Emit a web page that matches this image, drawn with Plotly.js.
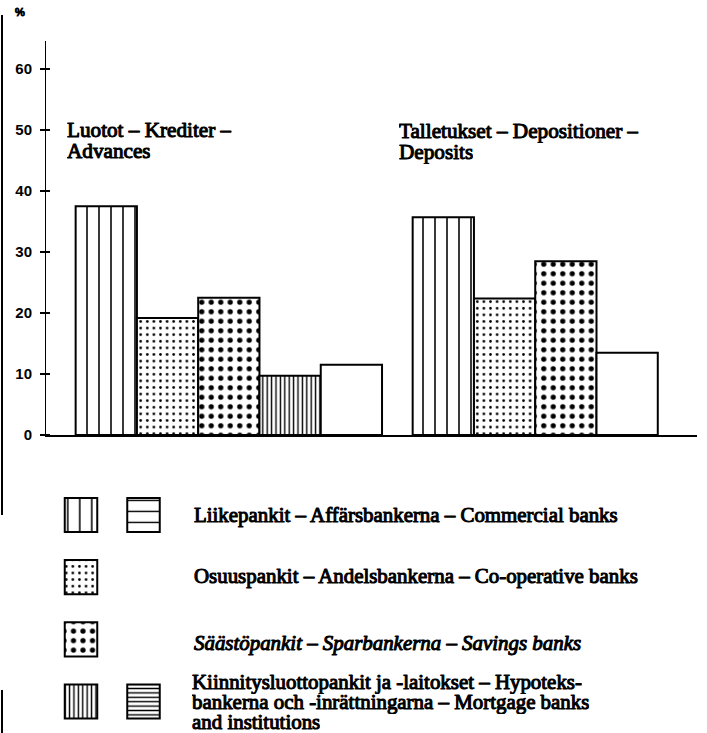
<!DOCTYPE html>
<html><head><meta charset="utf-8">
<script src="https://cdn.plot.ly/plotly-3.0.1.min.js"></script>
<style>
html,body{margin:0;padding:0;background:#fff}
/* heavier strokes for the serif captions (no bold serif face installed) */
#chart text.annotation-text{stroke:#000 !important;stroke-width:1.05px !important;stroke-linejoin:round}
</style>
</head><body><div id="chart" style="width:707px;height:733px"></div>
<script>
// ---- data ----
const groupLabels = [
  ['Luotot – Krediter –', 'Advances'],
  ['Talletukset – Depositioner –', 'Deposits']
];
const commercial  = [37.5, 35.7];
const cooperative = [19.2, 22.4];
const savings     = [22.5, 28.5];
const mortgage    = [9.7, null];
const other       = [11.5, 13.5];
const yTicks = [0, 10, 20, 30, 40, 50, 60];
const legendLabels = [
  ['Liikepankit – Affärsbankerna – Commercial banks'],
  ['Osuuspankit – Andelsbankerna – Co-operative banks'],
  ['Säästöpankit – Sparbankerna – Savings banks'],
  ['Kiinnitysluottopankit ja -laitokset – Hypoteks-', 'bankerna och -inrättningarna – Mortgage banks', 'and institutions']
];

// ---- styles ----
const W = 707, H = 733;
const px = v => v / W, py = v => 1 - v / H;
const serif = 'Liberation Serif';
const sans = 'Liberation Sans';
const pat = {
  wavyV:  {shape: '|', size: 12, solidity: 0.13},
  wavyH:  {shape: '-', size: 11, solidity: 0.13},
  dotS:   {shape: '.', size: 6.6, solidity: 0.13},
  dotL:   {shape: '.', size: 9.5, solidity: 0.24},
  linesV: {shape: '|', size: 4.4, solidity: 0.32},
  linesH: {shape: '-', size: 4.4, solidity: 0.32},
  none:   {shape: ''}
};
function marker(p) {
  const m = {color: 'white', line: {color: 'black', width: 2}};
  if (p.shape) m.pattern = Object.assign({fgcolor: 'black', bgcolor: 'white', fillmode: 'replace'}, p);
  return m;
}

const series = [
  {values: commercial,  p: pat.wavyV},
  {values: cooperative, p: pat.dotS},
  {values: savings,     p: pat.dotL},
  {values: mortgage,    p: pat.linesV},
  {values: other,       p: pat.none}
];
const groupStart = [1, 6.5];
const slot = [0, 0];
const traces = series.map(s => {
  const xs = [], ys = [];
  s.values.forEach((v, g) => {
    if (v == null) return;
    xs.push(groupStart[g] + slot[g]); slot[g]++; ys.push(v);
  });
  return {type: 'bar', x: xs, y: ys, width: 1, marker: marker(s.p),
          xaxis: 'x', yaxis: 'y', showlegend: false, hoverinfo: 'skip'};
});

// legend keys (column, row, pattern)
const keys = [
  [0, 0, pat.wavyV], [1, 0, pat.wavyH],
  [0, 1, pat.dotS],
  [0, 2, pat.dotL],
  [0, 3, pat.linesV], [1, 3, pat.linesH]
];
keys.forEach(k => traces.push({
  type: 'bar', x: [k[0]], y: [0.55], base: [k[1] - 0.275], width: 0.52,
  marker: marker(k[2]), xaxis: 'x2', yaxis: 'y2', showlegend: false, hoverinfo: 'skip'
}));

// one annotation per text line; stacked lines get a box exactly one line-step tall
function textLines(lines, x, y0, step, font) {
  const multi = lines.length > 1;
  return lines.map((t, i) => Object.assign({
    xref: 'paper', yref: 'paper', x: px(x), y: py(y0 + i * step + (multi ? 1.5 : 0)),
    text: t, showarrow: false, xanchor: 'left', yanchor: 'middle', font: font
  }, multi ? {height: step, valign: 'bottom', borderpad: 0, borderwidth: 0} : {}));
}

const annotations = [];
annotations.push({xref: 'paper', yref: 'paper', x: px(20), y: py(12), text: '%', showarrow: false,
  xanchor: 'center', yanchor: 'middle', font: {family: sans, size: 11, color: 'black'}});
const groupTitlePos = [[67, 130], [399, 131]];
groupLabels.forEach((lines, g) => annotations.push(...textLines(lines,
  groupTitlePos[g][0], groupTitlePos[g][1], 21, {family: serif, size: 21.2, color: 'black'})));
const legendRowY = [515, 576, 643, 682];
legendLabels.forEach((lines, r) => annotations.push(...textLines(lines, 192, legendRowY[r], 20,
  {family: serif, size: 20.9, style: r === 2 ? 'italic' : 'normal', color: 'black'})));

const layout = {
  width: W, height: H, margin: {l: 0, r: 0, t: 0, b: 0},
  paper_bgcolor: 'white', plot_bgcolor: 'white', barmode: 'overlay', showlegend: false,
  xaxis: {domain: [px(45), px(697)], range: [0, 10.64], showline: true, linewidth: 2, linecolor: 'black',
          showticklabels: false, ticks: '', showgrid: false, zeroline: false, fixedrange: true},
  yaxis: {domain: [py(435), py(41)], range: [0, 64.6], tickvals: yTicks, ticks: 'outside', ticklen: 10,
          tickwidth: 2, tickcolor: 'black', showline: false, anchor: 'free', position: px(50),
          showgrid: false, zeroline: false, fixedrange: true, ticklabelstandoff: 5,
          tickfont: {family: sans, size: 15, weight: 'bold', color: 'black'}},
  xaxis2: {domain: [px(49.75), px(174.75)], range: [-0.5, 1.5], visible: false, fixedrange: true},
  yaxis2: {domain: [py(732.6), py(483.9)], range: [3.5, -0.5], visible: false, fixedrange: true},
  annotations: annotations,
  shapes: [
    // y-axis line (ticks of the free axis cross it)
    {type: 'line', xref: 'x', yref: 'y', x0: 0, x1: 0, y0: 0, y1: 64.6, line: {color: 'black', width: 2}},
    // page-edge rule of the scanned original
    {type: 'line', xref: 'paper', yref: 'paper', x0: px(2), x1: px(2), y0: py(15), y1: py(515), line: {color: 'black', width: 2}},
    {type: 'line', xref: 'paper', yref: 'paper', x0: px(2), x1: px(2), y0: py(690), y1: py(733), line: {color: 'black', width: 2}}
  ]
};

Plotly.newPlot('chart', traces, layout, {staticPlot: true, displayModeBar: false});
</script></body></html>
